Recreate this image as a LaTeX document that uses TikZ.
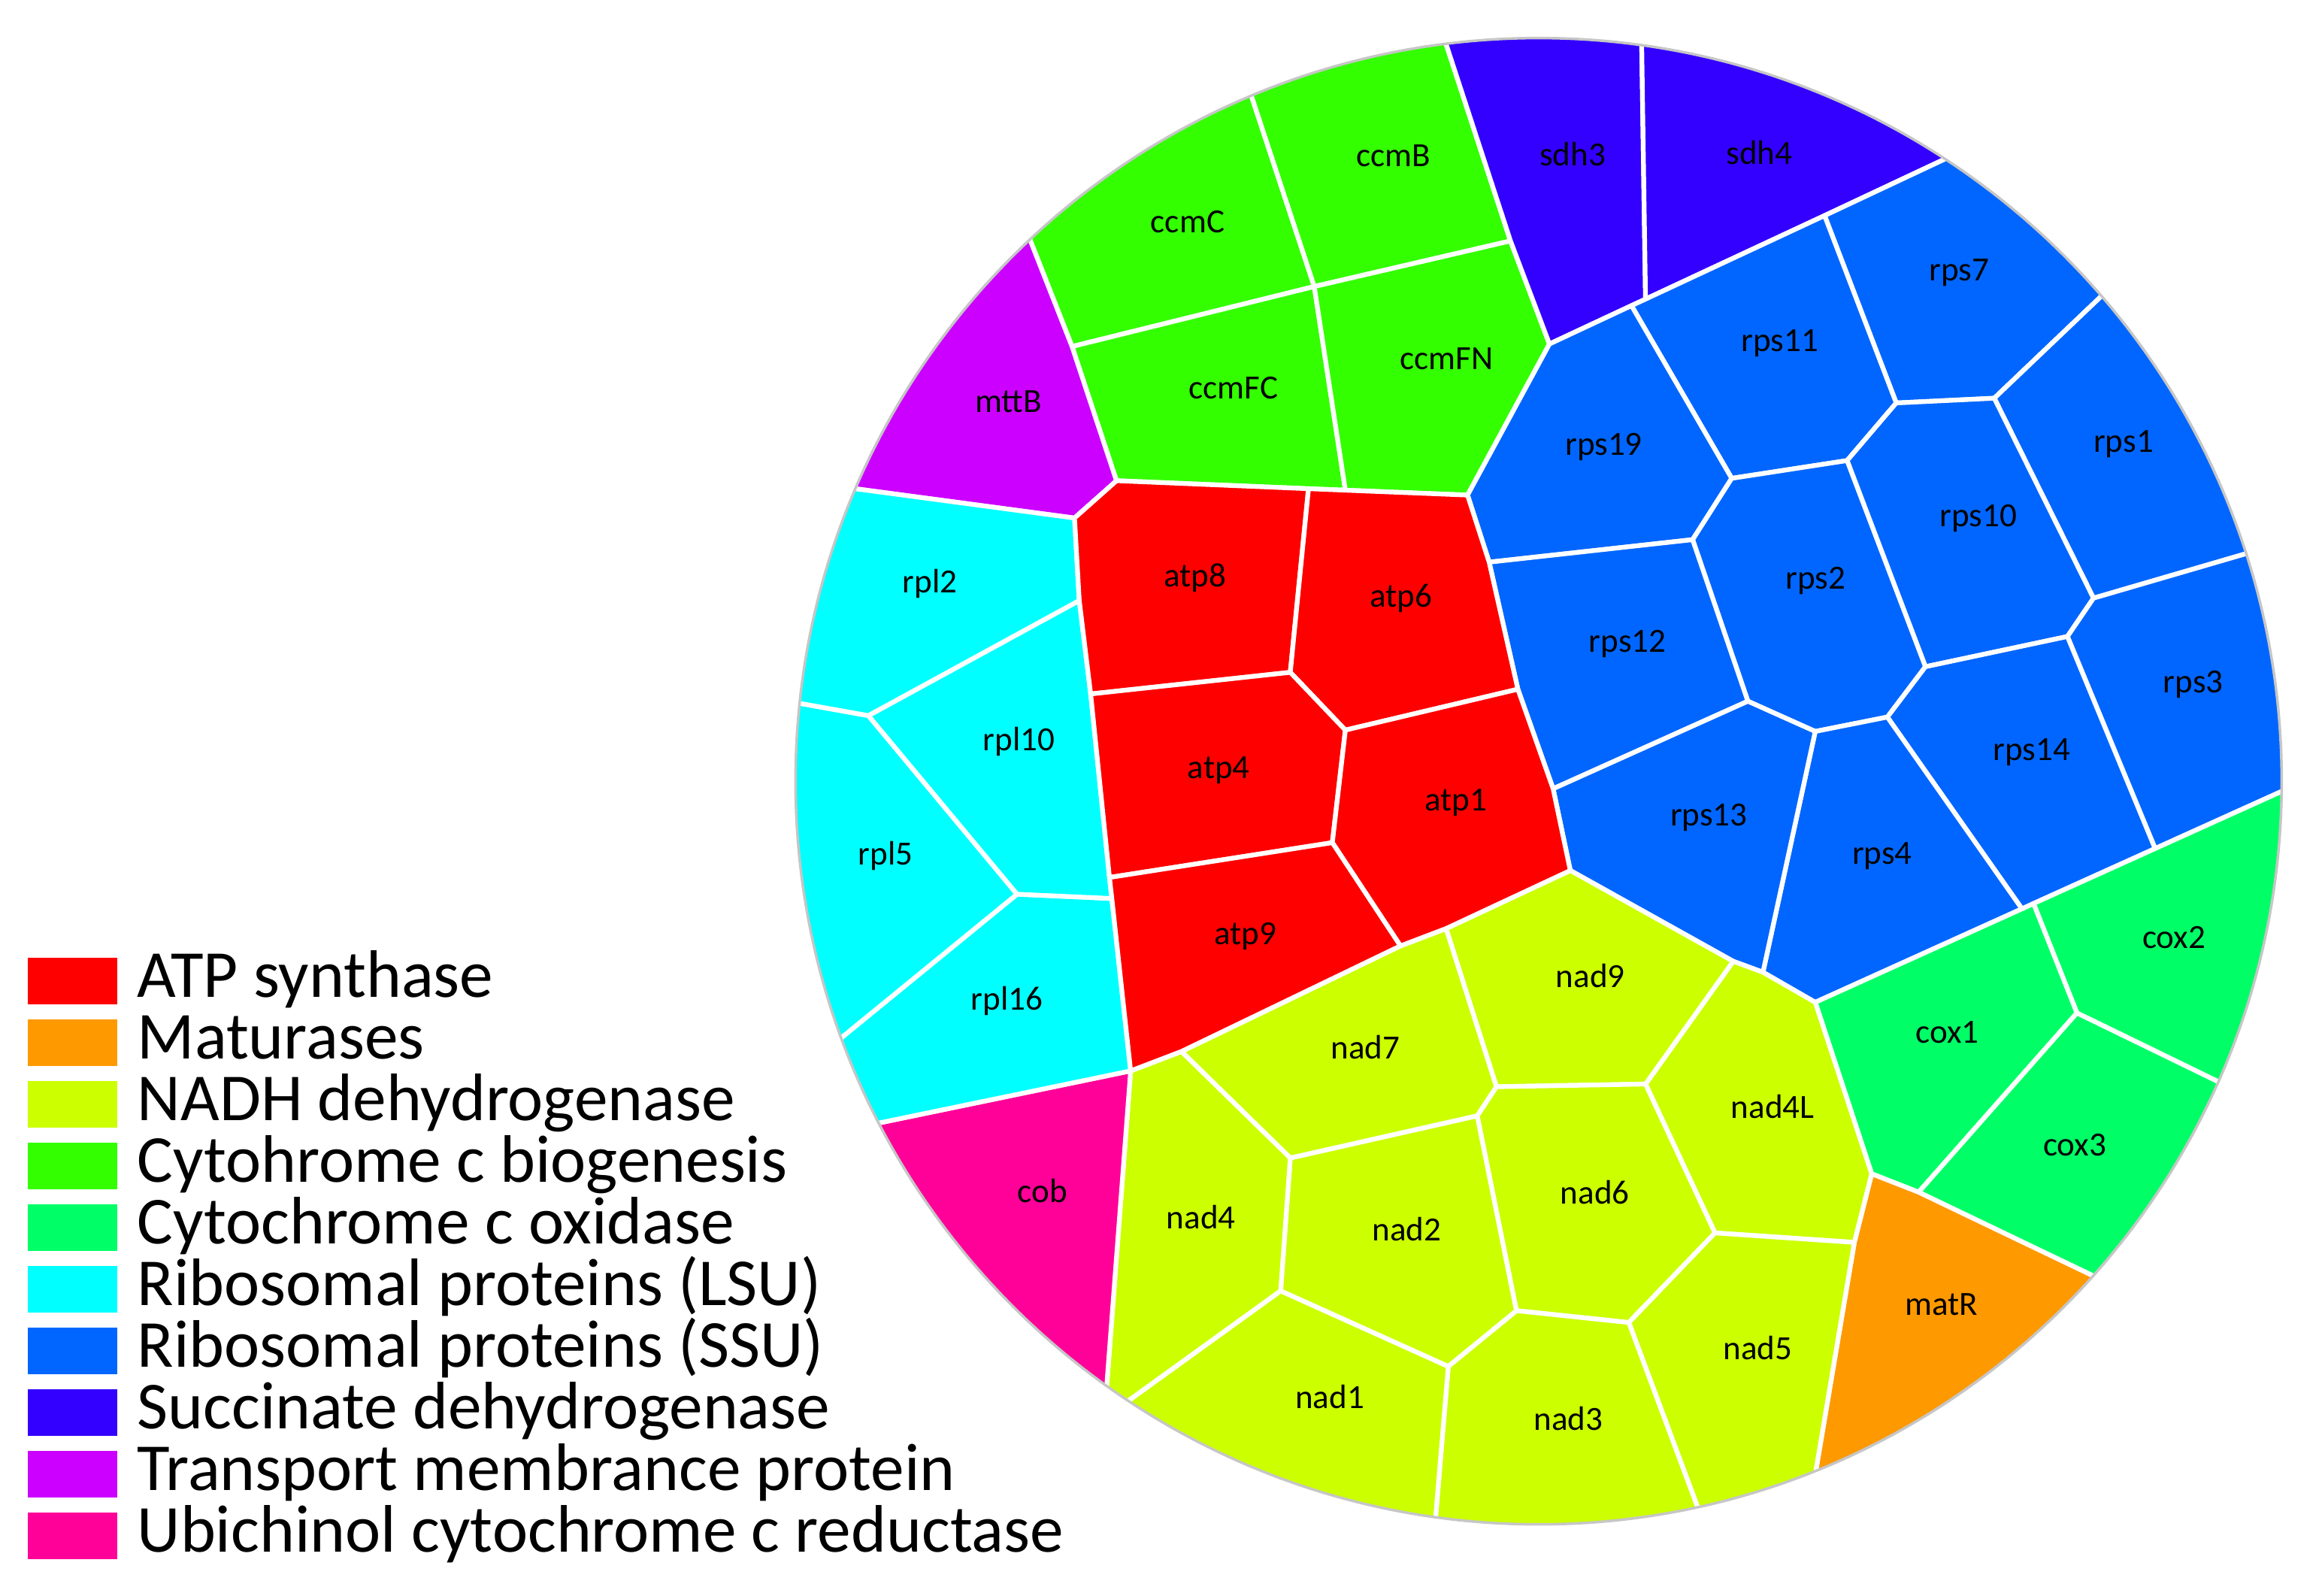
\documentclass[tikz,border=0pt]{standalone}
\usepackage{fontspec}
\setmainfont{Carlito}
\usetikzlibrary{calc}
\definecolor{cATP}{HTML}{FF0000}
\definecolor{cMAT}{HTML}{FF9900}
\definecolor{cNAD}{HTML}{CCFF00}
\definecolor{cCCM}{HTML}{33FF00}
\definecolor{cCOX}{HTML}{00FF66}
\definecolor{cLSU}{HTML}{00FFFF}
\definecolor{cSSU}{HTML}{0066FF}
\definecolor{cSDH}{HTML}{3300FF}
\definecolor{cTMP}{HTML}{CC00FF}
\definecolor{cUBI}{HTML}{FF0099}
\newcommand\mybpt[3]{\coordinate (#1) at ($(C)!5.015cm!(#2,#3)$);\coordinate (#1o) at ($(C)!6.5cm!(#2,#3)$);}
\begin{document}
\begin{tikzpicture}[x=0.01cm,y=-0.01cm,
  cell/.style={draw=white,line width=0.9pt,line join=round},
  lab/.style={font=\fontsize{6.5}{7}\selectfont,inner sep=0pt},
  legtext/.style={anchor=base west,font=\fontsize{12.9}{14}\selectfont,inner sep=0pt}]
\useasboundingbox (0,0) rectangle (1568,1077.6);
\coordinate (C) at (1039,527.5);
% boundary points on the circle
\mybpt{b1}{696.5}{162.7}
\mybpt{b2}{845.4}{65.6}
\mybpt{b3}{976.5}{30}
\mybpt{b4}{1108.7}{30}
\mybpt{b5}{1313.2}{107.7}
\mybpt{b6}{1419}{200}
\mybpt{b7}{1516}{374.1}
\mybpt{b8}{1540.7}{534.4}
\mybpt{b9}{1497.7}{730.3}
\mybpt{b10}{1412}{860.2}
\mybpt{b11}{1225.1}{990.2}
\mybpt{b12}{1145.8}{1015.1}
\mybpt{b13}{970}{1020.5}
\mybpt{b14b}{764.4}{942.1}
\mybpt{b14}{749.2}{933.2}
\mybpt{b15}{596}{757}
\mybpt{b16}{570.2}{700}
\mybpt{b17}{541}{475}
\mybpt{b18}{580}{331}
% interior vertices
\coordinate (v1) at (887.5,193.5);
\coordinate (v2) at (724,234);
\coordinate (v3) at (1020,162.7);
\coordinate (v4) at (1046.3,232.3);
\coordinate (v5) at (1111.2,202);
\coordinate (v6) at (1101.7,206.4);
\coordinate (v7) at (1232.1,145.6);
\coordinate (v8) at (754,324.6);
\coordinate (v9) at (725.6,349.8);
\coordinate (v10) at (908.5,331);
\coordinate (v11) at (883.6,330);
\coordinate (v12) at (991,334.3);
\coordinate (v13) at (1169.4,323);
\coordinate (v14) at (1143,364.4);
\coordinate (v15) at (1005.6,379.6);
\coordinate (v16) at (1280.5,272.1);
\coordinate (v17) at (1346.7,268.9);
\coordinate (v18) at (1247.3,311);
\coordinate (v19) at (1180.3,473.5);
\coordinate (v20) at (1225.8,493.9);
\coordinate (v21) at (1274.5,484.2);
\coordinate (v22) at (1300.2,450.2);
\coordinate (v23) at (1396.1,429.8);
\coordinate (v24) at (1413.7,403.9);
\coordinate (v25) at (1455.3,573);
\coordinate (v26) at (1365.4,613.7);
\coordinate (v27) at (1373.2,610.1);
\coordinate (v28) at (1225.8,676.8);
\coordinate (v29) at (1190.5,656.5);
\coordinate (v30) at (1170.4,649.1);
\coordinate (v31) at (1060.4,587.8);
\coordinate (v32) at (1048.8,532.6);
\coordinate (v33) at (1111.2,732);
\coordinate (v34) at (1158.1,832.5);
\coordinate (v35) at (1252.2,838.9);
\coordinate (v36) at (1263.9,792.6);
\coordinate (v37) at (1295.6,805);
\coordinate (v38) at (1402.5,684);
\coordinate (v39) at (1099.9,893);
\coordinate (v40) at (1024,885);
\coordinate (v41) at (728.8,405.5);
\coordinate (v42) at (586.4,483.2);
\coordinate (v43) at (871.3,454);
\coordinate (v44) at (736.5,468.6);
\coordinate (v45) at (908.5,493);
\coordinate (v46) at (1025,465.4);
\coordinate (v47) at (686.8,603.8);
\coordinate (v48) at (750.8,606.7);
\coordinate (v49) at (749.2,592.5);
\coordinate (v50) at (899.7,569);
\coordinate (v51) at (945.7,638.7);
\coordinate (v52) at (976.5,627);
\coordinate (v53) at (797.8,710);
\coordinate (v54) at (763.5,723.1);
\coordinate (v55) at (871.3,781.9);
\coordinate (v56) at (997.5,753.4);
\coordinate (v57) at (1010.5,733.8);
\coordinate (v58) at (978,922.6);
\coordinate (v59) at (864.8,871.6);
\begin{scope}
\clip (C) circle[radius=5.015cm];
% transport membrane protein
\filldraw[cell,fill=cTMP] (b18) -- (b18o) -- (b1o) -- (b1) -- (v2) -- (v8) -- (v9) -- cycle;
% cytochrome c biogenesis
\filldraw[cell,fill=cCCM] (b1) -- (b1o) -- (b2o) -- (b2) -- (v1) -- (v2) -- cycle;
\filldraw[cell,fill=cCCM] (b2) -- (b2o) -- (b3o) -- (b3) -- (v3) -- (v1) -- cycle;
\filldraw[cell,fill=cCCM] (v2) -- (v1) -- (v10) -- (v11) -- (v8) -- cycle;
\filldraw[cell,fill=cCCM] (v1) -- (v3) -- (v4) -- (v12) -- (v10) -- cycle;
% succinate dehydrogenase
\filldraw[cell,fill=cSDH] (b3) -- (b3o) -- (b4o) -- (b4) -- (v5) -- (v6) -- (v4) -- (v3) -- cycle;
\filldraw[cell,fill=cSDH] (b4) -- (b4o) -- (b5o) -- (b5) -- (v7) -- (v5) -- cycle;
% ribosomal proteins SSU
\filldraw[cell,fill=cSSU] (b5) -- (b5o) -- (b6o) -- (b6) -- (v17) -- (v16) -- (v7) -- cycle;
\filldraw[cell,fill=cSSU] (v6) -- (v5) -- (v7) -- (v16) -- (v18) -- (v13) -- cycle;
\filldraw[cell,fill=cSSU] (v4) -- (v6) -- (v13) -- (v14) -- (v15) -- (v12) -- cycle;
\filldraw[cell,fill=cSSU] (b6) -- (b6o) -- (b7o) -- (b7) -- (v24) -- (v17) -- cycle;
\filldraw[cell,fill=cSSU] (v16) -- (v17) -- (v24) -- (v23) -- (v22) -- (v18) -- cycle;
\filldraw[cell,fill=cSSU] (v13) -- (v18) -- (v22) -- (v21) -- (v20) -- (v19) -- (v14) -- cycle;
\filldraw[cell,fill=cSSU] (v15) -- (v14) -- (v19) -- (v32) -- (v46) -- cycle;
\filldraw[cell,fill=cSSU] (b7) -- (b7o) -- (b8o) -- (b8) -- (v25) -- (v23) -- (v24) -- cycle;
\filldraw[cell,fill=cSSU] (v22) -- (v23) -- (v25) -- (v27) -- (v26) -- (v21) -- cycle;
\filldraw[cell,fill=cSSU] (v20) -- (v21) -- (v26) -- (v28) -- (v29) -- cycle;
\filldraw[cell,fill=cSSU] (v19) -- (v20) -- (v29) -- (v30) -- (v31) -- (v32) -- cycle;
% cytochrome c oxidase
\filldraw[cell,fill=cCOX] (b8) -- (b8o) -- (b9o) -- (b9) -- (v38) -- (v27) -- (v25) -- cycle;
\filldraw[cell,fill=cCOX] (v26) -- (v27) -- (v38) -- (v37) -- (v36) -- (v28) -- cycle;
\filldraw[cell,fill=cCOX] (v38) -- (b9) -- (b9o) -- (b10o) -- (b10) -- (v37) -- cycle;
% maturases
\filldraw[cell,fill=cMAT] (v37) -- (b10) -- (b10o) -- (b11o) -- (b11) -- (v35) -- (v36) -- cycle;
% NADH dehydrogenase
\filldraw[cell,fill=cNAD] (v30) -- (v29) -- (v28) -- (v36) -- (v35) -- (v34) -- (v33) -- cycle;
\filldraw[cell,fill=cNAD] (v52) -- (v31) -- (v30) -- (v33) -- (v57) -- cycle;
\filldraw[cell,fill=cNAD] (v57) -- (v33) -- (v34) -- (v39) -- (v40) -- (v56) -- cycle;
\filldraw[cell,fill=cNAD] (v34) -- (v35) -- (b11) -- (b11o) -- (b12o) -- (b12) -- (v39) -- cycle;
\filldraw[cell,fill=cNAD] (v40) -- (v39) -- (b12) -- (b12o) -- (b13o) -- (b13) -- (v58) -- cycle;
\filldraw[cell,fill=cNAD] (v59) -- (v58) -- (b13) -- (b13o) -- (b14bo) -- (b14b) -- cycle;
\filldraw[cell,fill=cNAD] (v55) -- (v56) -- (v40) -- (v58) -- (v59) -- cycle;
\filldraw[cell,fill=cNAD] (v53) -- (v51) -- (v52) -- (v57) -- (v56) -- (v55) -- cycle;
\filldraw[cell,fill=cNAD] (v54) -- (v53) -- (v55) -- (v59) -- (b14b) -- (b14bo) -- (b14o) -- (b14) -- cycle;
% ubichinol cytochrome c reductase
\filldraw[cell,fill=cUBI] (b15) -- (v54) -- (b14) -- (b14o) -- (b15o) -- cycle;
% ribosomal proteins LSU
\filldraw[cell,fill=cLSU] (b16) -- (v47) -- (v48) -- (v54) -- (b15) -- (b15o) -- (b16o) -- cycle;
\filldraw[cell,fill=cLSU] (b17) -- (v42) -- (v47) -- (b16) -- (b16o) -- (b17o) -- cycle;
\filldraw[cell,fill=cLSU] (v42) -- (v41) -- (v44) -- (v49) -- (v48) -- (v47) -- cycle;
\filldraw[cell,fill=cLSU] (b18) -- (v9) -- (v41) -- (v42) -- (b17) -- (b17o) -- (b18o) -- cycle;
% ATP synthase
\filldraw[cell,fill=cATP] (v9) -- (v8) -- (v11) -- (v43) -- (v44) -- (v41) -- cycle;
\filldraw[cell,fill=cATP] (v11) -- (v10) -- (v12) -- (v15) -- (v46) -- (v45) -- (v43) -- cycle;
\filldraw[cell,fill=cATP] (v44) -- (v43) -- (v45) -- (v50) -- (v49) -- cycle;
\filldraw[cell,fill=cATP] (v45) -- (v46) -- (v32) -- (v31) -- (v52) -- (v51) -- (v50) -- cycle;
\filldraw[cell,fill=cATP] (v49) -- (v50) -- (v51) -- (v53) -- (v54) -- (v48) -- cycle;
\end{scope}
\draw[gray!45,line width=0.5pt] (C) circle[radius=5.015cm];
% cell labels
\node[lab] (t-ccmC) at (802,150) {ccmC};
\node[lab] (t-ccmB) at (941,105) {ccmB};
\node[lab] (t-sdh3) at (1062,104) {sdh3};
\node[lab] (t-sdh4) at (1188,103) {sdh4};
\node[lab] (t-mttB) at (681,271) {mttB};
\node[lab] (t-ccmFC) at (833,262) {ccmFC};
\node[lab] (t-ccmFN) at (977,242) {ccmFN};
\node[lab] (t-rps7) at (1323,184) {rps7};
\node[lab] (t-rps11) at (1202,232) {rps11};
\node[lab] (t-rps19) at (1083,302) {rps19};
\node[lab] (t-rps1) at (1434,300) {rps1};
\node[lab] (t-rps10) at (1336,350) {rps10};
\node[lab] (t-rpl2) at (628,394) {rpl2};
\node[lab] (t-atp8) at (807,390) {atp8};
\node[lab] (t-atp6) at (946,404) {atp6};
\node[lab] (t-rps2) at (1226,392) {rps2};
\node[lab] (t-rps12) at (1099,435) {rps12};
\node[lab] (t-rps3) at (1481,462) {rps3};
\node[lab] (t-rpl10) at (688,501) {rpl10};
\node[lab] (t-atp4) at (823,520) {atp4};
\node[lab] (t-atp1) at (983,542) {atp1};
\node[lab] (t-rps14) at (1372,508) {rps14};
\node[lab] (t-rps13) at (1154,552) {rps13};
\node[lab] (t-rpl5) at (598,578) {rpl5};
\node[lab] (t-rps4) at (1271,578) {rps4};
\node[lab] (t-atp9) at (841,632) {atp9};
\node[lab] (t-nad9) at (1074,659) {nad9};
\node[lab] (t-cox2) at (1468,633) {cox2};
\node[lab] (t-rpl16) at (680,676) {rpl16};
\node[lab] (t-cox1) at (1315,697) {cox1};
\node[lab] (t-nad7) at (922,707) {nad7};
\node[lab] (t-nad4L) at (1197,747) {nad4L};
\node[lab] (t-cox3) at (1401,773) {cox3};
\node[lab] (t-cob) at (704,804) {cob};
\node[lab] (t-nad4) at (811,822) {nad4};
\node[lab] (t-nad6) at (1077,805) {nad6};
\node[lab] (t-nad2) at (950,830) {nad2};
\node[lab] (t-matR) at (1311,881) {matR};
\node[lab] (t-nad5) at (1187,910) {nad5};
\node[lab] (t-nad1) at (898,943) {nad1};
\node[lab] (t-nad3) at (1059,958) {nad3};
% legend
\foreach \c/\t [count=\i from 0] in {cATP/ATP synthase,cMAT/Maturases,cNAD/NADH dehydrogenase,cCCM/Cytohrome c biogenesis,cCOX/Cytochrome c oxidase,cLSU/Ribosomal proteins (LSU),cSSU/Ribosomal proteins (SSU),cSDH/Succinate dehydrogenase,cTMP/Transport membrance protein,cUBI/Ubichinol cytochrome c reductase}{
  \fill[\c] (18.8,646.7+41.6*\i) rectangle (79,678.2+41.6*\i);
  \node[legtext] (leg\i) at (92,673.4+41.6*\i) {\t};
}
\end{tikzpicture}
\end{document}
